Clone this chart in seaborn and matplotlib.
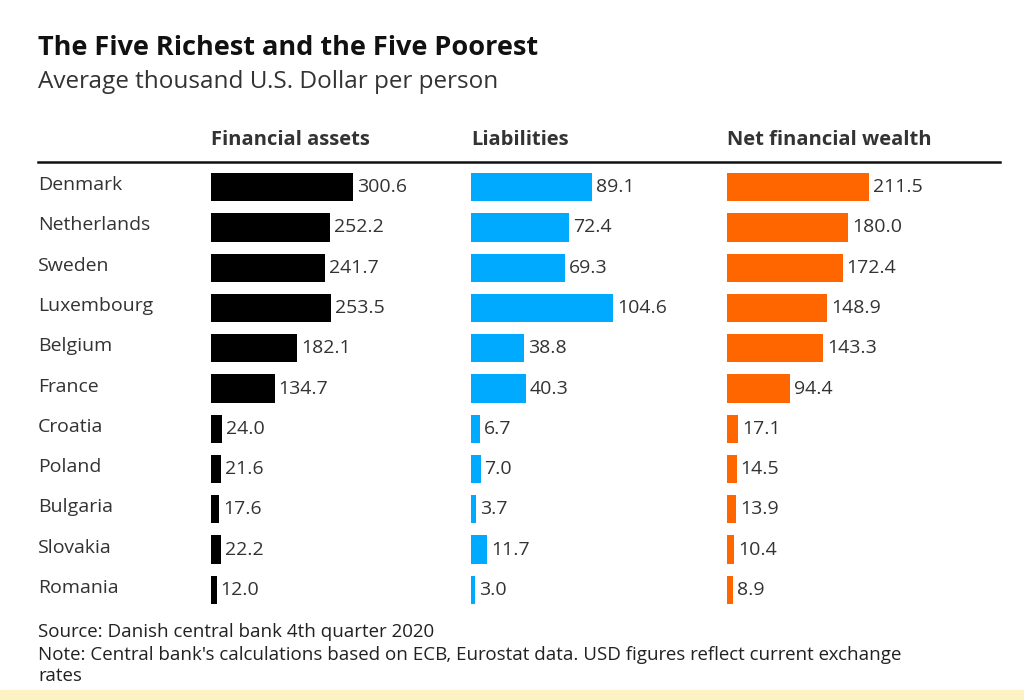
import matplotlib
matplotlib.use("Agg")
import matplotlib.pyplot as plt
import seaborn as sns
import pandas as pd

countries = ["Denmark","Netherlands","Sweden","Luxembourg","Belgium","France",
             "Croatia","Poland","Bulgaria","Slovakia","Romania"]
assets = [300.6,252.2,241.7,253.5,182.1,134.7,24.0,21.6,17.6,22.2,12.0]
liabilities = [89.1,72.4,69.3,104.6,38.8,40.3,6.7,7.0,3.7,11.7,3.0]
net = [211.5,180.0,172.4,148.9,143.3,94.4,17.1,14.5,13.9,10.4,8.9]
headers = ["Financial assets","Liabilities","Net financial wealth"]
colors = ["#000000","#00aaff","#ff6600"]

plt.rcParams["font.family"] = "Open Sans"
W, H = 1024, 700
fig = plt.figure(figsize=(W/100, H/100), dpi=100)
fig.patch.set_facecolor("white")

def fx(x): return x / W
def fy(y): return 1 - y / H

fig.text(fx(38), fy(48), "The Five Richest and the Five Poorest", fontsize=19.5,
         fontweight="bold", va="center", color="#111")
fig.text(fx(38), fy(82), "Average thousand U.S. Dollar per person", fontsize=17.5,
         va="center", color="#333")

top, bottom = 167, 610
series = [assets, liabilities, net]
starts = [211, 471, 727]
panel_w = 240
for s, x0, hdr, c in zip(series, starts, headers, colors):
    ax = fig.add_axes([fx(x0), fy(bottom), panel_w / W, (bottom - top) / H])
    df = pd.DataFrame({"country": countries, "value": s})
    sns.barplot(data=df, x="value", y="country", orient="h", color=c,
                width=0.7, ax=ax, saturation=1)
    m = max(s)
    ax.set_xlim(0, m * panel_w / 142)
    ax.set_ylim(10.5, -0.5)
    ax.axis("off")
    for i, v in enumerate(s):
        ax.text(v + m * 4 / 142, i, f"{v:.1f}", va="center", ha="left",
                fontsize=14, color="#333")
    fig.text(fx(x0), fy(140), hdr, fontsize=14.5, fontweight="bold",
             va="center", color="#333")

for i, cn in enumerate(countries):
    fig.text(fx(38), fy(185 + 40.3 * i), cn, fontsize=14, va="center", color="#333")

fig.add_artist(plt.Line2D([fx(38), fx(1000)], [fy(162), fy(162)], color="#111", lw=1.8))

fig.text(fx(38), fy(632), "Source: Danish central bank 4th quarter 2020", fontsize=13.5,
         va="center", color="#222")
fig.text(fx(38), fy(655), "Note: Central bank's calculations based on ECB, Eurostat data. USD figures reflect current exchange",
         fontsize=13.5, va="center", color="#222")
fig.text(fx(38), fy(676), "rates", fontsize=13.5, va="center", color="#222")

fig.add_artist(plt.Rectangle((0, 0), 1, 10 / H, color="#fdf2c4", transform=fig.transFigure))

fig.savefig("out.png", dpi=100)
